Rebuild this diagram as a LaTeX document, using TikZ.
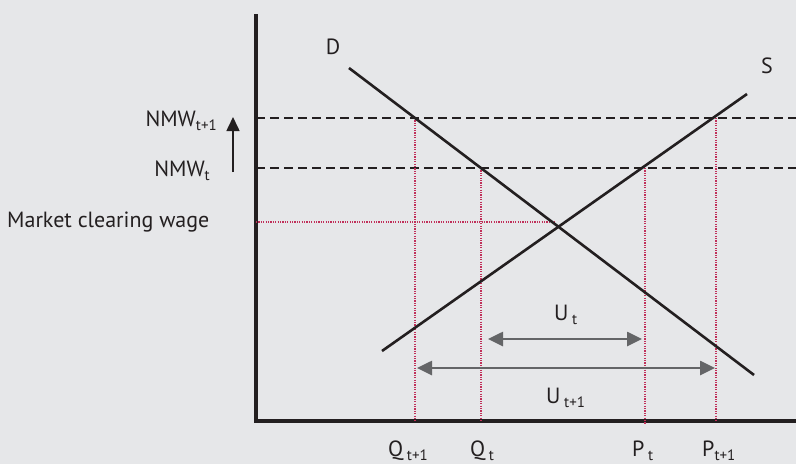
\documentclass[tikz,border=0pt]{standalone}
\usepackage{fontspec}
\setmainfont{PT Sans}
\usetikzlibrary{arrows.meta}
\definecolor{bg}{HTML}{E6E7E9}
\definecolor{dotc}{HTML}{C0305A}
\definecolor{arrg}{HTML}{646567}
\definecolor{ink}{HTML}{231F20}
\newcommand{\mysub}[1]{\raisebox{-0.2em}{\fontsize{15}{15}\selectfont #1}}
\tikzset{
  axis/.style={ink, line width=3.5pt},
  curve/.style={ink, line width=2.6pt},
  nmw/.style={ink, line width=2.7pt, dash pattern=on 9pt off 5pt},
  guide/.style={dotc, line width=1.2pt, dash pattern=on 1.2pt off 1.2pt},
  gap/.style={arrg, line width=2.6pt, {Triangle[length=15pt,width=14pt]}-{Triangle[length=15pt,width=14pt]}},
  lbl/.style={inner sep=0pt, font=\fontsize{22}{26}\selectfont, text=ink},
}
\begin{document}
\begin{tikzpicture}[x=1pt,y=-1pt]
\fill[bg] (0,0) rectangle (796,464);
\useasboundingbox (0,0) rectangle (796,464);
% axes
\coordinate (O) at (256,421);
\coordinate (ytop) at (256,14);
\coordinate (xend) at (796,421);
\draw[axis] (ytop) -- (O) -- (xend);
% key points
\coordinate (qt1) at (415,118);
\coordinate (qt) at (481,168);
\coordinate (pt) at (645,168);
\coordinate (pt1) at (716,118);
\coordinate (eq) at (555,222);
\coordinate (qt1b) at (415,421);
\coordinate (qtb) at (481,421);
\coordinate (ptb) at (645,424);
\coordinate (pt1b) at (716,421);
\coordinate (mcw) at (256,222);
% NMW lines
\coordinate (n1a) at (256,118);
\coordinate (n1b) at (796,118);
\coordinate (n0a) at (256,168);
\coordinate (n0b) at (796,168);
\draw[nmw] (n1a) -- (n1b);
\draw[nmw] (n0a) -- (n0b);
% guides
\draw[guide] (mcw) -- (eq);
\draw[guide] (qt1) -- (qt1b);
\draw[guide] (qt) -- (qtb);
\draw[guide] (pt) -- (ptb);
\draw[guide] (pt1) -- (pt1b);
% curves
\coordinate (D1) at (349,68);
\coordinate (D2) at (754,375);
\coordinate (S1) at (382,351);
\coordinate (S2) at (747,94);
\draw[curve] (D1) -- (D2);
\draw[curve] (S1) -- (S2);
% up arrow
\coordinate (ua) at (233,172);
\coordinate (ub) at (233,117);
\draw[ink, line width=1.6pt, -{Triangle[length=14pt,width=13pt]}] (ua) -- (ub);
% gap arrows
\coordinate (ut1) at (488,339);
\coordinate (ut2) at (642,339);
\coordinate (uu1) at (417,368);
\coordinate (uu2) at (715,368);
\draw[gap] (ut1) -- (ut2);
\draw[gap] (uu1) -- (uu2);
% labels
\node[lbl, anchor=base east] (lnmw1) at (217,126) {NMW\mysub{t+1}};
\node[lbl, anchor=base east] (lnmw0) at (210,176) {NMW\mysub{t}};
\node[lbl, anchor=base west] (lmcw) at (7,227) {Market clearing wage};
\node[lbl] (lD) at (333,47) {D};
\node[lbl] (lS) at (767,66) {S};
\node[lbl, anchor=base west] (lut) at (554,320) {U\,\mysub{t}};
\node[lbl, anchor=base west] (luu) at (546,403) {U\,\mysub{t+1}};
\node[lbl, anchor=base west] (lq1) at (388,456) {Q\,\mysub{t+1}};
\node[lbl, anchor=base west] (lq0) at (470,456) {Q\,\mysub{t}};
\node[lbl, anchor=base west] (lp0) at (632,456) {P\,\mysub{t}};
\node[lbl, anchor=base west] (lp1) at (702,456) {P\mysub{t+1}};
\end{tikzpicture}
\end{document}
